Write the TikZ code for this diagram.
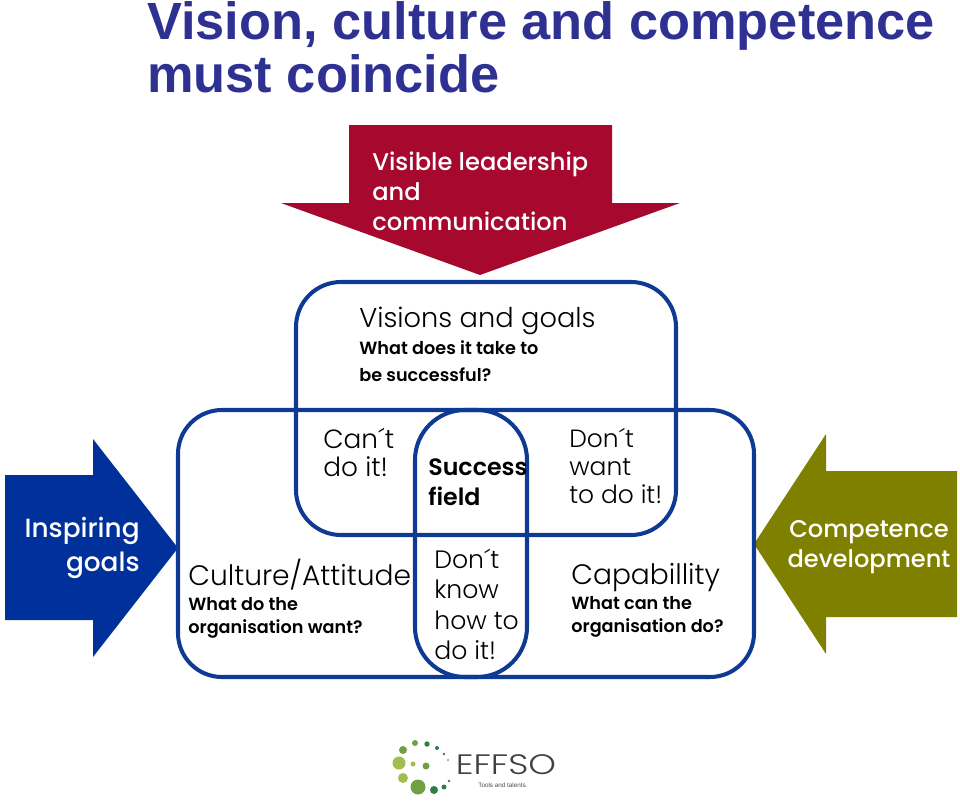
\documentclass[tikz,border=0pt]{standalone}
\usepackage{fontspec}
\usepackage{xcolor}
\setmainfont{Liberation Sans}
\newfontfamily\gothic{Poppins Light}
\newfontfamily\gothicbold{Poppins SemiBold}
\newfontfamily\opens{Poppins Medium}
\definecolor{titleblue}{HTML}{2E3192}
\definecolor{boxblue}{HTML}{0F3A94}
\definecolor{arrowred}{HTML}{A6082E}
\definecolor{arrowblue}{HTML}{00309A}
\definecolor{arrowolive}{HTML}{808000}
\definecolor{logolight}{HTML}{A3BC4E}
\definecolor{logomid}{HTML}{6FA044}
\definecolor{logodark}{HTML}{2F7F45}
\tikzset{
  fieldbox/.style={draw=boxblue,line width=2.3pt},
  lighttext/.style={anchor=north west,align=left,inner sep=0pt,text=black,font=\gothic\fontsize{#1}{16}\selectfont},
  asktext/.style={anchor=north west,align=left,inner sep=0pt,font=\gothicbold\fontsize{10.05}{13}\selectfont},
  arrowtext/.style={inner sep=0pt,text=white,font=\opens\fontsize{13.75}{17}\selectfont}
}
\begin{document}
\begin{tikzpicture}[x=0.02cm,y=-0.02cm]
\useasboundingbox (0,0) rectangle (960,801);
% Title
\node[anchor=north west,align=left,inner sep=0pt,text=titleblue,font=\bfseries\fontsize{29.8}{30}\selectfont] (title) at (147,1) {Vision, culture and competence\\must coincide};

% Three arrows
\fill[arrowred] (349,125) -- (612,125) -- (612,203) -- (680,203) -- (480,275) -- (281,203) -- (349,203) -- cycle;
\fill[arrowblue] (5,475) -- (93,475) -- (93,439) -- (178,548) -- (93,657) -- (93,620) -- (5,620) -- cycle;
\fill[arrowolive] (957,471) -- (826,471) -- (826,434) -- (754,544) -- (826,654) -- (826,617) -- (957,617) -- cycle;
\node[arrowtext,anchor=north west,align=left] (leadership) at (372,152) {Visible leadership\\and\\communication};
\node[arrowtext,anchor=east,align=right,font=\opens\fontsize{15}{19}\selectfont] (inspiring) at (140,548) {Inspiring\\goals};
\node[arrowtext,align=center] (competence) at (869,547) {Competence\\development};

% Rounded fields
\draw[fieldbox,rounded corners=0.9cm] (296,282) rectangle (676,535);
\draw[fieldbox,rounded corners=0.88cm] (178,410) rectangle (754,677);
\draw[fieldbox,rounded corners=1cm] (415,410) rectangle (527,677);

% Field texts
\node[lighttext=15.5] (visions) at (359,307) {Visions and goals};
\node[asktext,font=\gothicbold\fontsize{10.05}{15.3}\selectfont] (visionsask) at (359,340) {What does it take to\\be successful?};
\node[lighttext=15] (cant) at (323,428) {Can´t\\do it!};
\node[inner sep=0pt,anchor=north west,align=left,font=\gothicbold\fontsize{13.5}{17}\selectfont] (success) at (428,458) {Success\\field};
\node[lighttext=14.2] (dont) at (569,428) {Don´t\\want\\to do it!};
\node[lighttext=16,text depth=0pt] (culture) at (188,559) {Culture/Attitude};
\node[asktext] (cultureask) at (188,597) {What do the\\organisation want?};
\node[lighttext=14.3,font=\gothic\fontsize{14.3}{17.2}\selectfont] (knowhow) at (434,549) {Don´t\\know\\how to\\do it!};
\node[lighttext=16,text depth=0pt] (capability) at (571,563) {Capabillity};
\node[asktext] (capabilityask) at (571,596) {What can the\\organisation do?};

% Logo
\fill[logomid] (415,743) circle (3);
\fill[logodark] (427,744) circle (2.7);
\fill[logodark] (437,748) circle (2);
\fill[logodark] (444,754) circle (1.3);
\fill[logodark] (448,760) circle (.8);
\fill[logomid] (403,750) circle (4);
\fill[logolight] (399,763) circle (6.5);
\fill[logolight] (413,764) circle (2.5);
\fill[logomid] (426,766) circle (3.5);
\fill[logolight] (403,778) circle (5);
\fill[logomid] (418,787) circle (7.5);
\fill[logodark] (434,790) circle (4);
\fill[logodark] (444,787) circle (2.5);
\fill[logodark] (449,781) circle (1.3);
\node[inner sep=0pt,text=black!75,xscale=1.25,transform shape,text height=10pt,text depth=0pt,font=\gothic\fontsize{16}{16}\selectfont] (effso) at (506,766) {EFFSO};
\node[inner sep=0pt,text=black!70,font=\fontsize{3.6}{4}\selectfont] (tools) at (503,785) {Tools and talents.};
\end{tikzpicture}
\end{document}
